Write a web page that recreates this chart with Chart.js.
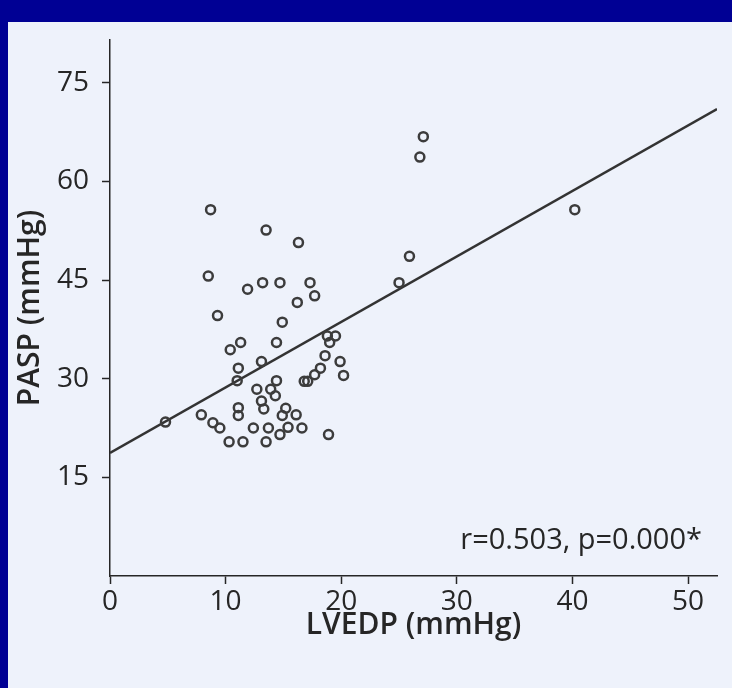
<!DOCTYPE html>
<html>
<head>
<meta charset="utf-8">
<script src="https://cdn.jsdelivr.net/npm/chart.js@4.4.0/dist/chart.umd.min.js"></script>
<style>
  html, body { margin: 0; padding: 0; background: #000094; }
  canvas { display: block; }
</style>
</head>
<body>
<canvas id="scatter" width="732" height="688"></canvas>
<script>
    "use strict";

    // LVEDP (mmHg), x values
    var lvedp = [4.8, 7.9, 8.9, 9.5, 8.7, 8.5, 9.3, 10.3, 10.4, 11.3,
                 11.1, 11.0, 11.1, 11.1, 11.5, 11.9, 12.4, 12.7, 13.1, 13.1,
                 13.3, 13.2, 13.5, 13.5, 13.7, 13.9, 14.3, 14.4, 14.4, 14.7,
                 14.9, 14.9, 14.7, 15.2, 15.4, 16.1, 16.2, 16.3, 16.6, 16.8,
                 17.1, 17.3, 17.7, 17.7, 18.2, 18.6, 18.8, 19.5, 19.0, 18.9,
                 19.9, 20.2, 25.0, 25.9, 26.8, 27.1, 40.2];
    // PASP (mmHg), y values
    var pasp = [23.4, 24.5, 23.3, 22.5, 55.7, 45.6, 39.6, 20.4, 34.4, 35.5,
                31.6, 29.7, 25.6, 24.4, 20.4, 43.6, 22.5, 28.4, 32.6, 26.6,
                25.4, 44.6, 52.6, 20.4, 22.5, 28.4, 27.4, 29.7, 35.5, 44.6,
                38.6, 24.4, 21.5, 25.5, 22.6, 24.5, 41.6, 50.7, 22.5, 29.6,
                29.6, 44.6, 42.6, 30.6, 31.6, 33.5, 36.5, 36.5, 35.5, 21.5,
                32.6, 30.5, 44.6, 48.6, 63.7, 66.8, 55.7];

    // regression line ends
    var fitX = [0, 52.5];
    var fitY = [18.7, 71.0];

    var xTicks = [0, 10, 20, 30, 40, 50];
    var yTicks = [15, 30, 45, 60, 75];
    var statText = "r=0.503, p=0.000*";

    var FONT = "'Open Sans', 'Noto Sans', sans-serif";
    var INK = "#262626";

    var points = lvedp.map(function (x, i) { return {x: x, y: pasp[i]}; });
    var fitLine = fitX.map(function (x, i) { return {x: x, y: fitY[i]}; });

    // Background (blue frame + pale panel) and the r/p note
    var decor = {
        id: "decor",
        beforeDraw: function (chart) {
            var c = chart.ctx;
            c.save();
            c.fillStyle = "#000094";
            c.fillRect(0, 0, chart.width, chart.height);
            c.fillStyle = "#eef2fb";
            c.fillRect(8, 22, chart.width - 8, chart.height - 22);
            c.restore();
        },
        afterDraw: function (chart) {
            var c = chart.ctx;
            var area = chart.chartArea;
            c.save();
            c.font = "29px " + FONT;
            c.fillStyle = INK;
            c.textAlign = "right";
            c.textBaseline = "middle";
            c.fillText(statText, area.right - 15, area.bottom - 35);
            c.restore();
        }
    };

    var ctx = document.getElementById("scatter").getContext("2d");
    var myChart = new Chart(ctx, {
        type: "scatter",
        data: {
            datasets: [{
                label: "fit",
                type: "line",
                data: fitLine,
                borderColor: "#333333",
                borderWidth: 2.5,
                pointRadius: 0,
                fill: false,
                order: 2
            }, {
                label: "patients",
                data: points,
                pointRadius: 4.5,
                pointBorderWidth: 2.5,
                pointBorderColor: "#3c3c3c",
                pointBackgroundColor: "rgba(0,0,0,0)",
                order: 1
            }]
        },
        options: {
            responsive: false,
            animation: false,
            layout: { padding: { left: 0, top: 40, right: 15, bottom: 0 } },
            plugins: {
                legend: { display: false },
                tooltip: { enabled: false }
            },
            scales: {
                x: {
                    type: "linear",
                    min: 0,
                    max: 52.5,
                    afterFit: function (scale) { scale.height = 112; },
                    afterBuildTicks: function (scale) {
                        scale.ticks = xTicks.map(function (v) { return {value: v}; });
                    },
                    grid: { drawOnChartArea: false, tickLength: 8, color: INK, tickWidth: 1.5 },
                    border: { display: true, color: INK, width: 1.5 },
                    ticks: { color: INK, padding: 1, font: { family: FONT, size: 28 } },
                    title: {
                        display: true,
                        text: "LVEDP (mmHg)",
                        color: INK,
                        padding: { top: 0, bottom: 45 },
                        font: { family: FONT, size: 30, weight: "600" }
                    }
                },
                y: {
                    type: "linear",
                    min: 0,
                    max: 81.5,
                    afterFit: function (scale) { scale.width = 110; },
                    afterBuildTicks: function (scale) {
                        scale.ticks = yTicks.map(function (v) { return {value: v}; });
                    },
                    grid: { drawOnChartArea: false, tickLength: 8, color: INK, tickWidth: 1.5 },
                    border: { display: true, color: INK, width: 1.5 },
                    ticks: { color: INK, padding: 13, font: { family: FONT, size: 28 } },
                    title: {
                        display: true,
                        text: "PASP (mmHg)",
                        color: INK,
                        padding: { top: 12, bottom: 0 },
                        font: { family: FONT, size: 30, weight: "600" }
                    }
                }
            }
        },
        plugins: [decor]
    });
</script>
</body>
</html>
